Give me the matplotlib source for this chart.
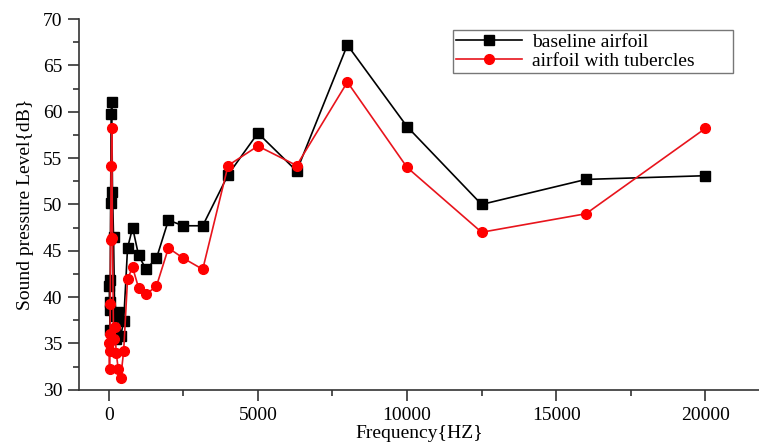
import numpy as np
import matplotlib
matplotlib.use("Agg")
import matplotlib.pyplot as plt
from matplotlib.ticker import MultipleLocator

plt.rcParams['font.family'] = ['Liberation Serif', 'DejaVu Serif']

# one-third octave band centre frequencies (Hz)
freq = [20, 25, 31.5, 40, 50, 63, 80, 100, 125, 160, 200, 250, 315, 400, 500,
        630, 800, 1000, 1250, 1600, 2000, 2500, 3150, 4000, 5000, 6300, 8000,
        10000, 12500, 16000, 20000]

# sound pressure level (dB)
baseline = [41.2, 38.6, 39.5, 36.5, 41.9, 50.2, 59.8, 61.0, 51.3, 46.5, 38.0,
            35.5, 38.4, 35.8, 37.4, 45.3, 47.5, 44.5, 43.0, 44.2, 48.3, 47.7,
            47.7, 53.2, 57.7, 53.6, 67.2, 58.4, 50.0, 52.7, 53.1]
tubercles = [35.0, 32.2, 36.0, 34.2, 39.3, 46.2, 54.2, 58.3, 46.4, 35.5, 36.8,
             34.0, 32.3, 31.3, 34.2, 42.0, 43.2, 41.0, 40.3, 41.2, 45.3, 44.2,
             43.0, 54.2, 56.3, 54.2, 63.2, 54.0, 47.0, 49.0, 58.2]

fig = plt.figure(figsize=(7.59, 4.43), dpi=100)
ax = fig.add_axes([0.104, 0.12, 0.896, 0.837])

ax.plot(freq, baseline, color='black', lw=1.2, marker='s', ms=7,
        label='baseline airfoil')
ax.plot(freq, tubercles, color='#e8141c', lw=1.2, marker='o', ms=7,
        mfc='red', mec='red', label='airfoil with tubercles')

ax.set_xlim(-1000, 21800)
ax.set_ylim(30, 70)
ax.xaxis.set_major_locator(MultipleLocator(5000))
ax.xaxis.set_minor_locator(MultipleLocator(2500))
ax.yaxis.set_major_locator(MultipleLocator(5))
ax.yaxis.set_minor_locator(MultipleLocator(2.5))
ax.tick_params(which='major', length=8, width=1.2, labelsize=14, color='#333333', pad=4)
ax.tick_params(which='minor', length=4, width=1.2, color='#333333')

for s in ['top', 'right']:
    ax.spines[s].set_visible(False)
for s in ['left', 'bottom']:
    ax.spines[s].set_linewidth(1.2)
    ax.spines[s].set_color('#333333')

ax.set_xlabel('Frequency{HZ}', fontsize=14, labelpad=1)
ax.set_ylabel('Sound pressure Level{dB}', fontsize=14, labelpad=6)

leg = ax.legend(loc='lower left', bbox_to_anchor=(0.55, 0.854, 0.412, 0.116),
                mode='expand', fontsize=14, frameon=True, fancybox=False,
                handlelength=3.4, borderpad=0.15, labelspacing=0.1,
                handletextpad=0.5, borderaxespad=0)
leg.get_frame().set_edgecolor('#555555')
leg.get_frame().set_linewidth(1.0)

fig.savefig('out.png', dpi=100)
